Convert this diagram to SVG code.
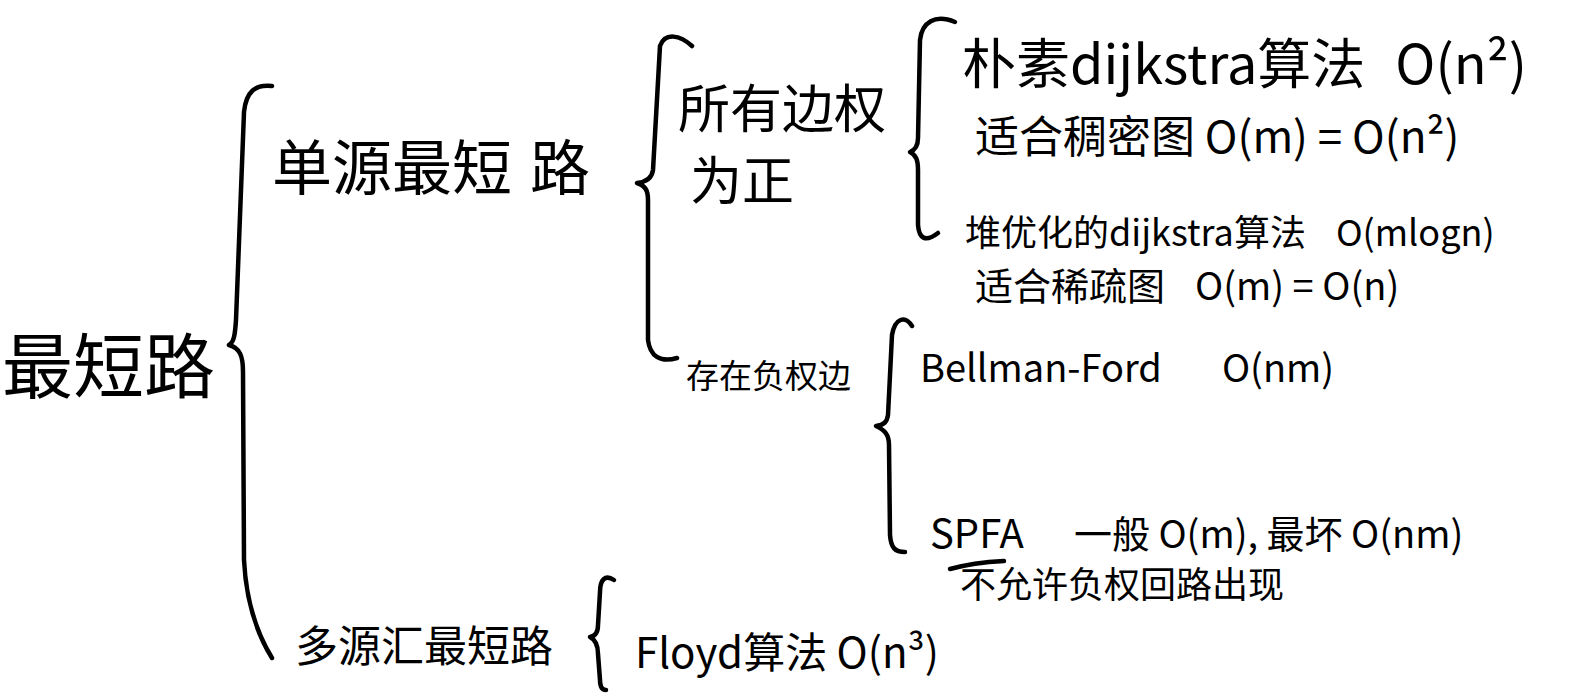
<svg xmlns="http://www.w3.org/2000/svg" width="1578" height="697" viewBox="0 0 1578 697">
<style>
.t{font-family:"Noto Sans CJK SC","Noto Sans",sans-serif;fill:#000;}
.b{fill:none;stroke:#000;stroke-width:4.5;stroke-linecap:round;stroke-linejoin:round;}
</style>
<rect width="1578" height="697" fill="#fff"/>
<g id="connectors">
<path class="b" d="M 272 86 C 255 84, 246 92, 244 112 L 236 320 C 235 335, 234 342, 229 345 C 240 348, 243 356, 243 372 L 244 560 C 246 600, 256 632, 272 658"/>
<path class="b" d="M 692 46 C 680 35, 665 32, 660 46 L 653 170 C 652 178, 646 182, 637 183 C 646 186, 648 191, 648 200 L 648 340 C 650 356, 660 363, 677 358"/>
<path class="b" d="M 955 22 C 935 14, 922 22, 920 40 L 918 138 C 918 146, 915 150, 910 152 C 916 155, 918 160, 918 170 L 918 225 C 919 238, 925 243, 938 233"/>
<path class="b" d="M 912 326 C 905 315, 895 318, 892 335 L 888 415 C 887 422, 884 425, 876 426 C 885 430, 889 435, 889 445 L 890 535 C 891 548, 895 552, 905 552"/>
<path class="b" d="M 614 580 C 605 574, 600 580, 600 592 L 598 625 C 598 632, 596 636, 590 637 C 596 640, 598 645, 598 654 L 600 680 C 600 686, 602 690, 606 690"/>
<path class="b" d="M 950 569 C 968 564, 985 562, 1004 561"/>
</g>
<g id="root"><text class="t" x="2" y="392" font-size="71">最短路</text></g>
<g id="single"><text class="t" x="272" y="190" font-size="60">单源最短<tspan dx="18">路</tspan></text></g>
<g id="positive"><text class="t" x="678" y="128" font-size="52">所有边权</text><text class="t" x="690" y="200" font-size="52">为正</text></g>
<g id="naive"><text class="t" x="962" y="84" font-size="54">朴素dijkstra算法<tspan dx="30">O(n²)</tspan></text></g>
<g id="naive-note"><text class="t" x="975" y="153" font-size="44">适合稠密图 O(m) = O(n²)</text></g>
<g id="heap"><text class="t" x="965" y="246" font-size="36">堆优化的dijkstra算法<tspan dx="30">O(mlogn)</tspan></text></g>
<g id="heap-note"><text class="t" x="975" y="300" font-size="38">适合稀疏图<tspan dx="30">O(m) = O(n)</tspan></text></g>
<g id="negative"><text class="t" x="686" y="388" font-size="33">存在负权边</text></g>
<g id="bellman"><text class="t" x="920" y="382" font-size="38">Bellman-Ford<tspan dx="60">O(nm)</tspan></text></g>
<g id="spfa"><text class="t" x="930" y="548" font-size="40">SPFA<tspan dx="50" font-size="38">一般 O(m), 最坏 O(nm)</tspan></text></g>
<g id="spfa-note"><text class="t" x="960" y="598" font-size="36">不允许负权回路出现</text></g>
<g id="multi"><text class="t" x="295" y="662" font-size="43">多源汇最短路</text></g>
<g id="floyd"><text class="t" x="635" y="668" font-size="42">Floyd算法 O(n³)</text></g>
</svg>
